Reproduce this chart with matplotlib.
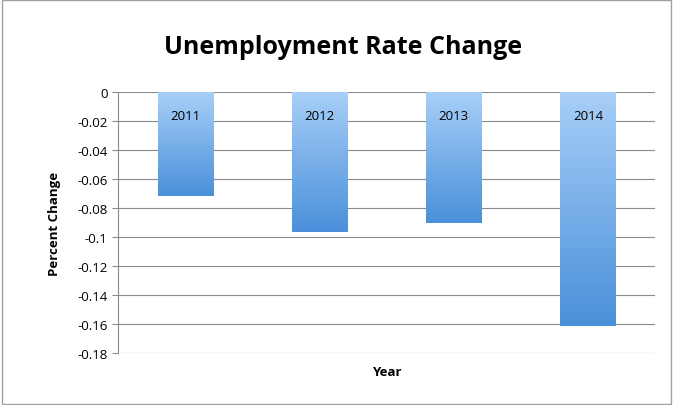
import numpy as np
import matplotlib
matplotlib.use("Agg")
from matplotlib import pyplot as plt
from matplotlib.colors import LinearSegmentedColormap

years = ["2011", "2012", "2013", "2014"]
changes = [-0.0717, -0.0966, -0.0903, -0.1614]
yticks = [0, -0.02, -0.04, -0.06, -0.08, -0.1, -0.12, -0.14, -0.16, -0.18]
ylabels = ["0", "-0.02", "-0.04", "-0.06", "-0.08", "-0.1", "-0.12", "-0.14", "-0.16", "-0.18"]

plt.rcParams['font.family'] = ['Open Sans', 'DejaVu Sans']

fig = plt.figure(figsize=(6.73, 4.06), dpi=100)
fig.patches.append(plt.Rectangle((0.003, 0.003), 0.994, 0.994, transform=fig.transFigure,
                                 fill=False, edgecolor='#a0a0a0', linewidth=1))
ax = fig.add_axes([118/673, 1-354/406, (655-118)/673, (354-93)/406])

# gradient fill: dark blue at the bottom of each bar, light blue at the top
cmap = LinearSegmentedColormap.from_list("g", ["#4a90da", "#a8cff8"])
x = np.arange(len(years))
bars = ax.bar(x, changes, width=0.41, color='none', zorder=2)
grad = np.linspace(0, 1, 256).reshape(-1, 1)
for b, yr in zip(bars, years):
    x0, w, h = b.get_x(), b.get_width(), b.get_height()
    im = ax.imshow(grad, cmap=cmap, aspect='auto', origin='lower',
                   extent=[x0, x0 + w, h, 0], zorder=2)
    im.set_clip_path(b)
    ax.text(x0 + w/2, -0.0165, yr, ha='center', va='center', fontsize=9.5, zorder=3)

ax.set_xlim(-0.5, len(years) - 0.5)
ax.set_ylim(-0.18, 0)
ax.set_yticks(yticks)
ax.set_yticklabels(ylabels, fontsize=9.5)
ax.set_xticks([])
ax.yaxis.grid(True, color='#8c8c8c', linewidth=0.8)
ax.set_axisbelow(True)
for s in ['top', 'right', 'bottom']:
    ax.spines[s].set_visible(False)
ax.spines['left'].set_color('#8c8c8c')
ax.tick_params(axis='y', length=4, color='#8c8c8c')
ax.set_xlabel("Year", fontsize=9.5, fontweight='bold', labelpad=9)
ax.set_ylabel("Percent Change", fontsize=9.5, fontweight='bold', labelpad=12)
fig.text(343/673, 1-48/406, "Unemployment Rate Change", ha='center', va='center',
         fontsize=18, fontweight='bold')

fig.savefig("out.png", dpi=100)
